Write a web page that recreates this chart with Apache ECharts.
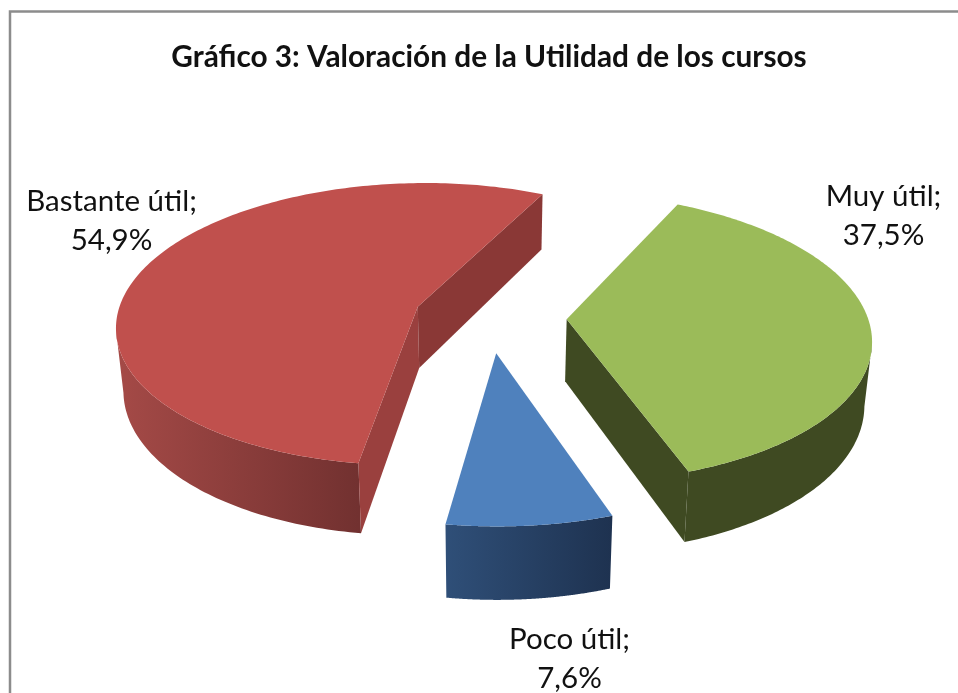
<!DOCTYPE html>
<html><head><meta charset="utf-8">
<style>html,body{margin:0;padding:0;background:#fff}#c{width:958px;height:693px}</style>
<script src="https://cdn.jsdelivr.net/npm/echarts@6/dist/echarts.min.js"></script>
</head><body><div id="c"></div>
<script>
var titleText = 'Gráfico 3: Valoración de la Utilidad de los cursos';
var categories = ['Muy útil', 'Poco útil', 'Bastante útil'];
var percentages = [37.5, 7.6, 54.9];

var topColors = ['#9bbb59', '#4f81bd', '#c0504d'];
var rimLeft = ['#3f4a22', '#2f4f78', '#a54a47'];
var rimRight = ['#3f4a22', '#1e3250', '#723130'];
var wallStart = ['#3f4a22', '#2f4f78', '#9a403e'];
var wallEnd = ['#3f4a22', '#2f4f78', '#8a3836'];
var labelPos = [[883.5, 215.5], [569.5, 658.5], [111.5, 221]];

// projection of a tilted disc
var P = {vx: 489, vy: 317, a: 301, b: 141.5, persp: 0.125, depth: 62, shrink: 0.98,
         explode: [0.258, 0.25, 0.25], rotation: 26};

function project(X, Y, lower) {
  var s = 1 / (1 - P.persp * Y);
  return [P.vx + P.a * X * s * (lower ? P.shrink : 1),
          P.vy + (P.b * Y + (lower ? P.depth : 0)) * s];
}
function pol(deg, r) { var t = deg * Math.PI / 180; return [r * Math.sin(t), r * Math.cos(t) * -1]; }

var total = percentages.reduce(function (a, b) { return a + b; }, 0);

function renderItem(params, api) {
  var i = params.dataIndex, before = 0;
  for (var k = 0; k < i; k++) before += percentages[k];
  var start = P.rotation + before / total * 360;
  var end = start + api.value(0) / total * 360;
  var off = pol((start + end) / 2, P.explode[i]);
  function pt(deg, r, lower) { var q = pol(deg, r); return project(off[0] + q[0], off[1] + q[1], lower); }

  // the side wall is visible between the disc's rightmost and leftmost screen points
  var rightDeg = 0, leftDeg = 0, maxX = -Infinity, minX = Infinity;
  for (var a = 0; a < 360; a += 0.5) {
    var px = pt(a, 1, false)[0];
    if (px > maxX) { maxX = px; rightDeg = a; }
    if (px < minX) { minX = px; leftDeg = a; }
  }

  var upper = [], lowerArc = [], frontU = [], frontL = [], N = 200;
  for (var j = 0; j <= N; j++) {
    var d = start + (end - start) * j / N;
    var u = pt(d, 1, false), l = pt(d, 1, true);
    upper.push(u);
    lowerArc.push(l);
    var dm = d % 360;
    if (dm >= rightDeg && dm <= leftDeg) { frontU.push(u); frontL.push(l); }
  }
  var apexU = pt(0, 0, false), apexL = pt(0, 0, true);
  var xs = upper.concat(lowerArc).map(function (p) { return p[0]; });
  var rimGrad = {
    type: 'linear', x: Math.min.apply(null, xs), y: 0, x2: i === 2 ? pt(start, 1, false)[0] : Math.max.apply(null, xs), y2: 0, global: true,
    colorStops: [{offset: 0, color: rimLeft[i]}, {offset: 1, color: rimRight[i]}]
  };
  function poly(points, fill) {
    return {type: 'polygon', shape: {points: points}, style: {fill: fill, stroke: null}, silent: true};
  }
  var kids = [poly(frontU.concat(frontL.slice().reverse()), rimGrad)];
  if (i === 2) kids.push(poly([apexU, upper[0], lowerArc[0], apexL], wallStart[i]));
  if (i !== 1) kids.push(poly([apexU, upper[N], lowerArc[N], apexL], wallEnd[i]));
  kids.push(poly([apexU].concat(upper), topColors[i]));
  kids.push({
    type: 'text', silent: true,
    style: {
      x: labelPos[i][0], y: labelPos[i][1],
      text: categories[i] + ';\n' + api.value(0).toFixed(1).replace('.', ',') + '%',
      font: '400 29.5px Lato', fill: '#111', align: 'center', verticalAlign: 'middle', lineHeight: 39
    }
  });
  return {type: 'group', children: kids};
}

var chart = echarts.init(document.getElementById('c'), null, {renderer: 'canvas'});
chart.setOption({
  animation: false,
  backgroundColor: '#fff',
  title: {
    text: titleText, left: 484, top: 37, textAlign: 'center',
    textStyle: {fontFamily: 'Lato', fontWeight: 700, fontSize: 29.8, color: '#111'}
  },
  graphic: [{
    type: 'polyline', silent: true, z: -1,
    shape: {points: [[10, 693], [10, 11.5], [958, 11.5]]},
    style: {stroke: '#8c8c8c', lineWidth: 2.5, fill: null}
  }],
  series: [{
    type: 'custom', coordinateSystem: 'none', renderItem: renderItem,
    data: percentages.map(function (v, i) { return {name: categories[i], value: [v]}; })
  }]
});
</script></body></html>
